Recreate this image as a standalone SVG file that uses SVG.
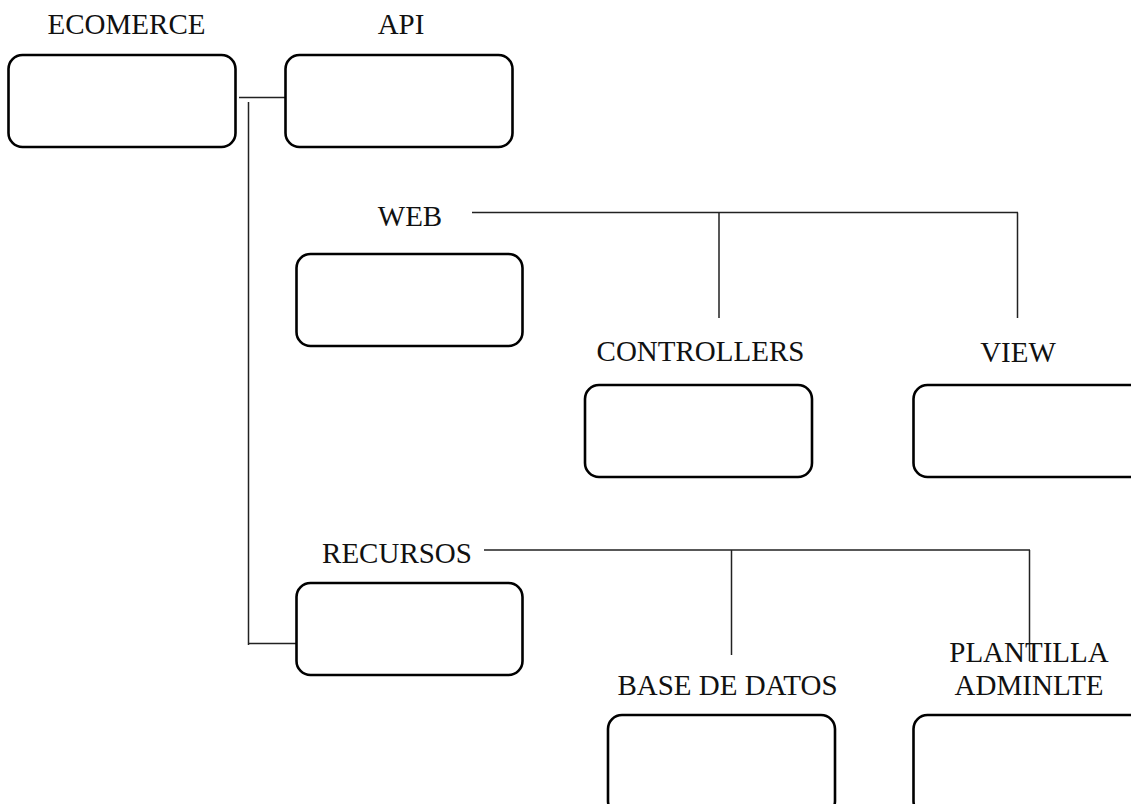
<svg xmlns="http://www.w3.org/2000/svg" width="1131" height="804" viewBox="0 0 1131 804">
<style>
.box{fill:#fff;stroke:#000;stroke-width:2.6}
.lbl{font-family:"Liberation Serif","Times New Roman",serif;font-size:29px;fill:#111;text-anchor:middle}
.con{fill:none;stroke:#222;stroke-width:1.5}
</style>
<rect width="1131" height="804" fill="#fff"/>
<g id="connectors">
<path class="con" d="M239 97.5H289"/>
<path class="con" d="M248.5 102V645M248 643.5H297"/>
<path class="con" d="M472 212.5H1018M719 212.5V318M1017.5 212.5V318"/>
<path class="con" d="M484 550H1030M731.5 550V655M1029.5 550V661"/>
</g>
<g id="ecomerce">
<rect class="box" x="8.5" y="55" width="227" height="92" rx="14"/>
<text class="lbl" x="126.5" y="34">ECOMERCE</text>
</g>
<g id="api">
<rect class="box" x="285.5" y="55" width="227" height="92" rx="14"/>
<text class="lbl" x="401" y="34">API</text>
</g>
<g id="web">
<rect class="box" x="296.5" y="254" width="226" height="92" rx="14"/>
<text class="lbl" x="410" y="226">WEB</text>
</g>
<g id="controllers">
<rect class="box" x="585" y="385" width="227" height="92" rx="14"/>
<text class="lbl" x="700.5" y="361">CONTROLLERS</text>
</g>
<g id="view">
<rect class="box" x="913.5" y="385" width="240" height="92" rx="14"/>
<text class="lbl" x="1018" y="362">VIEW</text>
</g>
<g id="recursos">
<rect class="box" x="296.5" y="583" width="226" height="92" rx="14"/>
<text class="lbl" x="397" y="563">RECURSOS</text>
</g>
<g id="base-de-datos">
<rect class="box" x="608" y="715" width="227" height="100" rx="14"/>
<text class="lbl" x="727.5" y="695">BASE DE DATOS</text>
</g>
<g id="plantilla-adminlte">
<rect class="box" x="913.5" y="715" width="240" height="100" rx="14"/>
<text class="lbl" x="1029" y="662">PLANTILLA</text>
<text class="lbl" x="1029" y="695">ADMINLTE</text>
</g>
</svg>
